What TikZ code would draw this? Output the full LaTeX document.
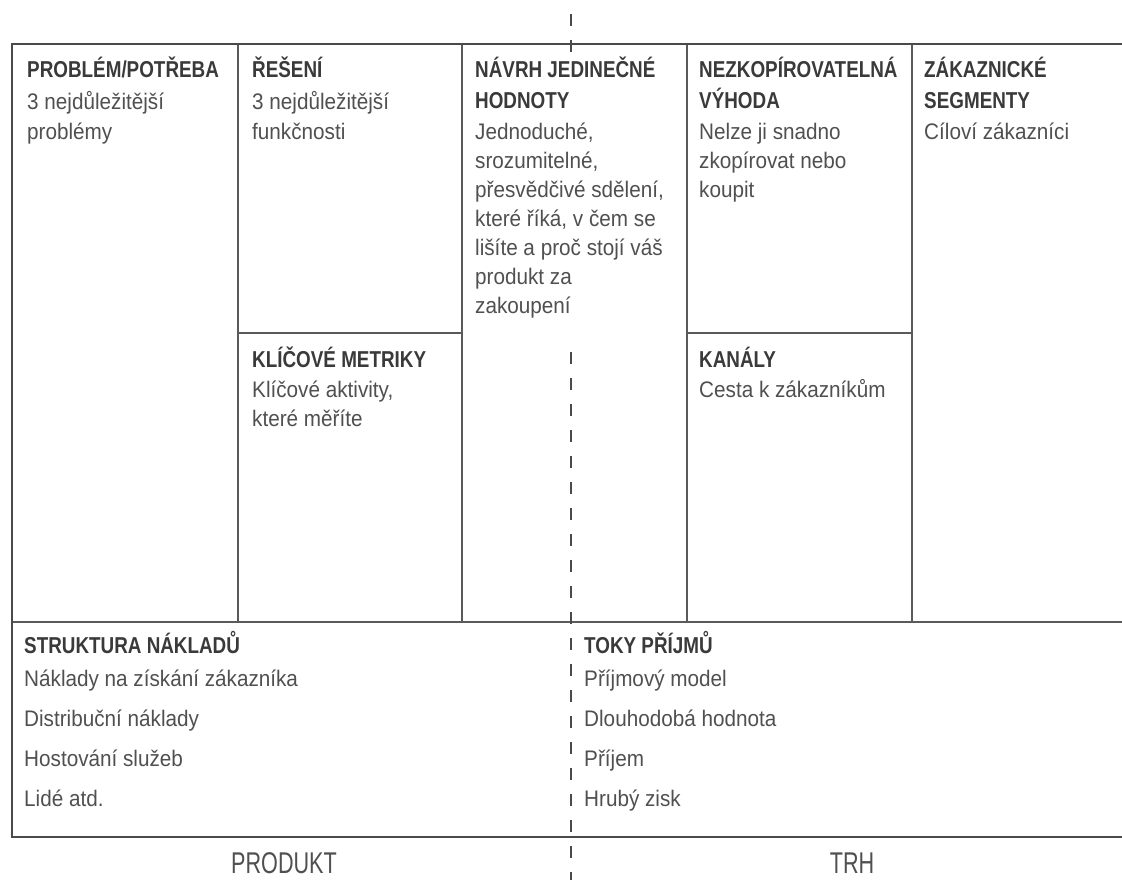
\documentclass[tikz,border=0pt]{standalone}
\usepackage{fontspec}
\setmainfont{Liberation Sans}[FakeStretch=0.92]
\newfontfamily\headfont[FakeStretch=0.82]{Liberation Sans}
\newfontfamily\labelfont[FakeStretch=0.72]{Liberation Sans}
\definecolor{framec}{HTML}{4A4A4A}
\definecolor{linec}{HTML}{5A5A5A}
\definecolor{headc}{HTML}{3A3A3A}
\definecolor{bodyc}{HTML}{505050}

% one heading line and one body line of a cell
\newcommand\hd[1]{\hbox{\headfont\bfseries\fontsize{23}{29}\selectfont\color{headc}#1}}
\newcommand\bd[1]{\hbox{\color{bodyc}#1}}
\newcommand\skipto[1]{\baselineskip=#1pt\relax}

\begin{document}
\begin{tikzpicture}[x=1pt,y=-1pt,
  frame/.style={draw=framec,line width=2.4pt},
  rule/.style={draw=linec,line width=1.3pt},
  divider/.style={draw=framec,line width=1.6pt,dash pattern=on 12pt off 14pt},
  celltext/.style={anchor=base west,inner sep=0pt,font=\fontsize{22.5}{29}\selectfont},
  sidelabel/.style={anchor=base,inner sep=0pt,text=bodyc,font=\labelfont\fontsize{30}{30}\selectfont}]

\useasboundingbox (0,0) rectangle (1122,880);
\fill[white] (0,0) rectangle (1122,880);

% grid of the canvas
\coordinate (tl) at (12,44);
\coordinate (bl) at (12,837);
\coordinate (tr) at (1130,44);
\coordinate (br) at (1130,837);
\coordinate (ml) at (12,622);
\coordinate (mr) at (1130,622);

\draw[rule] (238,44) -- (238,622);
\draw[rule] (462,44) -- (462,622);
\draw[rule] (687,44) -- (687,622);
\draw[rule] (912,44) -- (912,622);
\draw[rule] (238,333) -- (462,333);
\draw[rule] (687,333) -- (912,333);
\draw[rule] (ml) -- (mr);
\draw[frame] (tr) -- (tl) -- (bl) -- (br);

% product / market divider
\coordinate (d1) at (571,14);
\coordinate (d2) at (571,54);
\coordinate (d3) at (571,352);
\coordinate (d4) at (571,880);
\draw[divider] (d1) -- (d2);
\draw[divider] (d3) -- (d4);

% top row
\node[celltext] (probl) at (27,78) {\vtop{\skipto{32}\hd{PROBLÉM/POTŘEBA}\bd{3 nejdůležitější}\skipto{30}\bd{problémy}}};
\node[celltext] (reseni) at (252,78) {\vtop{\skipto{32}\hd{ŘEŠENÍ}\bd{3 nejdůležitější}\skipto{30}\bd{funkčnosti}}};
\node[celltext] (navrh) at (475,78) {\vtop{\skipto{31}\hd{NÁVRH JEDINEČNÉ}\hd{HODNOTY}\bd{Jednoduché,}\skipto{29}\bd{srozumitelné,}\bd{přesvědčivé sdělení,}\bd{které říká, v čem se}\bd{lišíte a proč stojí váš}\bd{produkt za}\bd{zakoupení}}};
\node[celltext] (vyhoda) at (699,78) {\vtop{\skipto{31}\hd{NEZKOPÍROVATELNÁ}\hd{VÝHODA}\bd{Nelze ji snadno}\skipto{29}\bd{zkopírovat nebo}\bd{koupit}}};
\node[celltext] (segmenty) at (924,78) {\vtop{\skipto{31}\hd{ZÁKAZNICKÉ}\hd{SEGMENTY}\bd{Cíloví zákazníci}}};

% lower half of the split columns
\node[celltext] (metriky) at (252,367) {\vtop{\skipto{30}\hd{KLÍČOVÉ METRIKY}\bd{Klíčové aktivity,}\skipto{29}\bd{které měříte}}};
\node[celltext] (kanaly) at (699,367) {\vtop{\skipto{30}\hd{KANÁLY}\bd{Cesta k zákazníkům}}};

% bottom row
\node[celltext] (naklady) at (24,653) {\vtop{\skipto{33}\hd{STRUKTURA NÁKLADŮ}\bd{Náklady na získání zákazníka}\skipto{40}\bd{Distribuční náklady}\bd{Hostování služeb}\bd{Lidé atd.}}};
\node[celltext] (prijmy) at (584,653) {\vtop{\skipto{33}\hd{TOKY PŘÍJMŮ}\bd{Příjmový model}\skipto{40}\bd{Dlouhodobá hodnota}\bd{Příjem}\bd{Hrubý zisk}}};

% side captions
\node[sidelabel] (produkt) at (284,873) {PRODUKT};
\node[sidelabel] (trh) at (852,873) {TRH};
\end{tikzpicture}
\end{document}
